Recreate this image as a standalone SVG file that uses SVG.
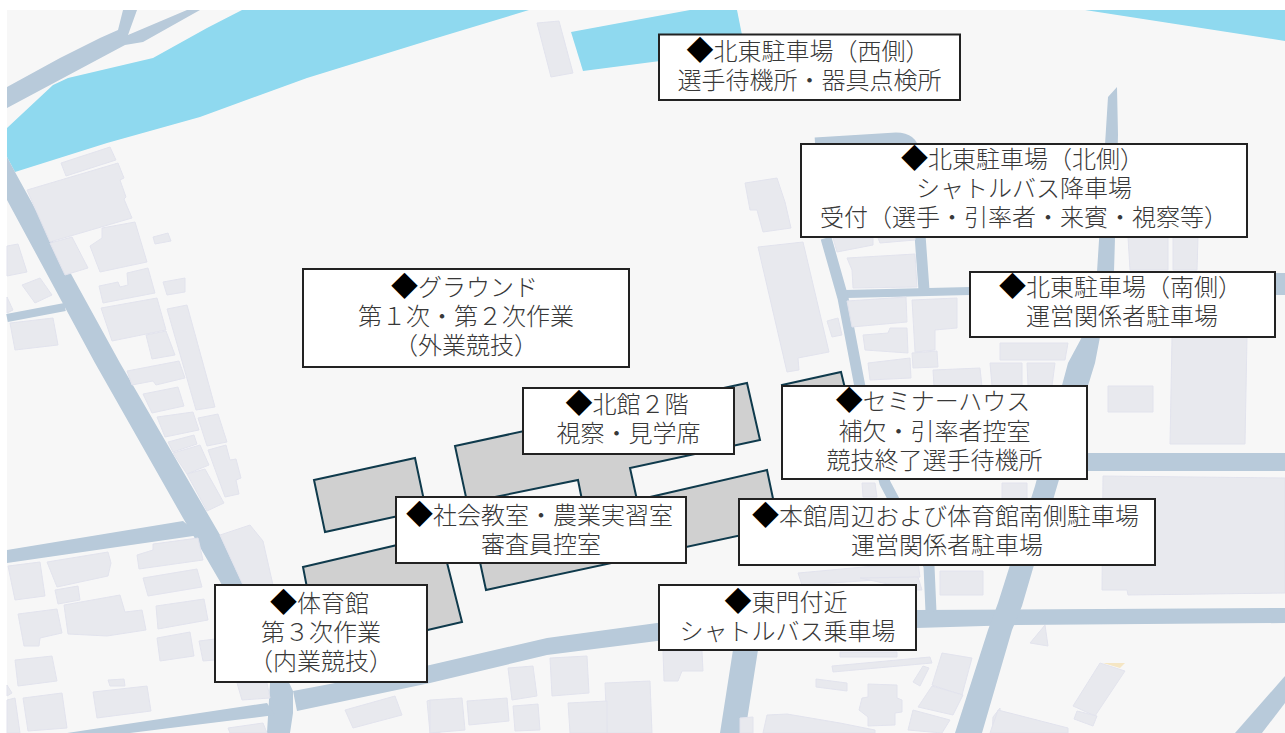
<svg xmlns="http://www.w3.org/2000/svg" width="1285" height="733" viewBox="0 0 1285 733">
<defs><filter id="soft" x="-2%" y="-2%" width="104%" height="104%"><feGaussianBlur stdDeviation="0.6"/></filter></defs>
<style>
.r{fill:#8fd9ef}
.d{fill:#b8cada}
.l{fill:none;stroke:#b8cada}
.b polygon{fill:#e8e9ee;stroke:#e2e3ed;stroke-width:1}
.h{fill:#d0d0d0;stroke:#0f3a4c;stroke-width:2;stroke-linejoin:miter}
.box{fill:#fff;stroke:#222;stroke-width:2}
text{font-family:"Noto Sans CJK JP","Noto Sans CJK SC",sans-serif;font-size:24px;font-weight:300;fill:#383838;text-anchor:middle}
.m{fill:#000;font-size:27px}
</style>
<rect width="1285" height="733" fill="#fff"/>
<rect x="7" y="10" width="1278" height="723" fill="#f7f7f7"/>
<g id="map" filter="url(#soft)">
<g id="water">
<polygon class="r" points="7,128 53,85 68,78 153,58 207,28 242,10 529,10 430,40 307,78 200,117 107,143 15,172 7,157"/>
<polygon class="r" points="571,32 690,10 737,10 745,50 583,71"/>
<polygon class="r" points="1085,10 1285,10 1285,41"/>
</g>
<g id="roads">
<polygon class="d" points="7,87 60,58 100,38 118,30 123,10 137,10 128,35 187,10 200,10 143,42 125,45 7,108"/>
<polygon class="d" points="7,157 15,172 120,363 220,535 243,585 293,691 293,713 290,733 267,733 270,683 222,585 183,518 95,363 7,200"/>
<polyline class="l" stroke-width="8" points="7,318 65,307"/>
<polygon class="d" points="7,550 183,521 200,535 7,563"/>
<polygon class="d" points="67,733 267,703 275,715 227,721 130,733"/>
<polygon class="d" points="293,691 430,665 547,638 657,623 916,610 1285,608 1285,623 1018,625 916,628 657,641 547,655 430,683 297,711"/>
<polygon class="d" points="733,650 758,650 745,733 720,733"/>
<polygon class="d" points="1068,363 1095,363 1058,483 1022,606 1012,630 982,733 955,733 988,630 998,603 1035,486"/>
<polygon class="d" points="1108,97 1117,87 1118,135 1114,272 1100,337 1095,363 1068,363 1082,337 1097,272"/>
<polygon class="d" points="845,290 970,287 970,295 847,298"/>
<polygon class="d" points="1270,273 1285,273 1285,295 1270,295"/>
<polyline class="l" stroke-width="11" stroke-linejoin="round" points="826,238 843,298 860,387 885,483 929,566 931,612"/>
<path class="l" stroke-width="11" d="M815,143 L896,138 Q912,138 914,152 L924,290"/>
<rect class="d" x="1050" y="453" width="235" height="18"/>
<polygon class="d" points="1235,733 1285,676 1285,703 1262,733"/>
</g>
<g id="buildings" class="b">
<polygon points="61,163 110,147 116,160 66,176"/>
<polygon points="27,190 118,163 124,178 120,180 126,197 124,199 132,218 50,242"/>
<polygon points="50,243 72,237 88,268 65,275"/>
<polygon points="90,246 102,238 102,228 135,222 147,262 100,272"/>
<polygon points="153,237 168,233 171,241 155,244"/>
<polygon points="7,246 18,244 27,272 7,276"/>
<polygon points="22,285 40,278 52,295 35,303"/>
<polygon points="7,297 13,310 7,313"/>
<polygon points="99,286 118,282 120,287 128,285 127,273 148,268 155,293 103,303"/>
<polygon points="163,282 185,278 185,292 167,295"/>
<polygon points="101,308 157,298 166,330 112,341"/>
<polygon points="146,335 166,331 175,355 152,359"/>
<polygon points="167,309 187,305 215,407 196,410"/>
<polygon points="10,323 53,318 58,345 15,350"/>
<polygon points="127,371 179,361 185,378 156,385 153,381 132,385"/>
<polygon points="143,394 178,387 184,406 152,413"/>
<polygon points="157,417 193,412 199,430 165,437"/>
<polygon points="198,418 218,414 227,442 207,446"/>
<polygon points="168,442 194,435 197,444 173,452"/>
<polygon points="173,453 200,445 209,465 187,474"/>
<polygon points="208,450 226,445 230,460 236,459 241,478 236,480 239,494 225,497"/>
<polygon points="187,474 205,469 224,503 207,511"/>
<polygon points="220,535 250,525 263,541 273,585 243,585"/>
<polygon points="137,555 153,550 153,544 198,538 203,560 139,569"/>
<polygon points="143,578 197,569 202,587 148,596"/>
<polygon points="156,606 204,599 208,620 158,629"/>
<polygon points="157,638 190,632 194,656 160,661"/>
<polygon points="199,641 215,639 215,660 203,661"/>
<polygon points="8,566 40,562 45,596 15,600"/>
<polygon points="47,562 108,552 111,563 108,576 57,587"/>
<polygon points="55,590 78,586 80,600 58,604"/>
<polygon points="64,605 120,595 125,612 142,610 146,630 107,636 68,634"/>
<polygon points="18,614 57,609 62,633 40,638 39,646 24,646"/>
<polygon points="15,660 52,656 57,681 18,686"/>
<polygon points="108,680 124,679 125,686 110,686"/>
<polygon points="93,692 147,686 151,711 97,718"/>
<polygon points="23,698 62,693 67,728 28,731"/>
<polygon points="7,685 12,693 7,696"/>
<polygon points="7,700 15,698 20,733 7,733"/>
<polygon points="237,683 267,683 270,698 242,700"/>
<polygon points="345,710 395,696 402,715 353,728"/>
<polygon points="228,728 263,723 267,733 230,733"/>
<polygon points="427,701 430,700 440,733 430,733"/>
<polygon points="508,668 533,666 537,696 512,700"/>
<polygon points="550,658 587,656 589,693 552,696"/>
<polygon points="605,683 650,681 652,733 607,733"/>
<polygon points="568,703 607,701 607,733 570,733"/>
<polygon points="513,706 538,704 540,730 515,731"/>
<polygon points="467,701 507,698 509,721 469,725"/>
<polygon points="430,700 462,698 465,730 430,733"/>
<polygon points="663,651 702,651 703,671 682,671 678,681 664,681"/>
<polygon points="798,573 918,562 920,577 802,585"/>
<polygon points="832,666 930,657 932,663 833,672"/>
<polygon points="816,679 847,683 847,691 816,687"/>
<polygon points="913,682 923,666 929,668 920,686"/>
<polygon points="868,684 897,685 897,698 902,700 902,712 895,713 895,725 868,726 868,717 859,710 862,698 868,697"/>
<polygon points="932,685 942,653 972,658 962,695"/>
<polygon points="918,707 932,686 963,695 953,715"/>
<polygon points="908,730 913,710 950,720 942,733"/>
<polygon points="763,733 767,715 787,714 840,723 875,730 875,733"/>
<polygon points="740,718 753,717 753,733 740,733"/>
<polygon points="840,652 897,652 897,657 840,657"/>
<polygon points="993,717 1000,708 1000,733 992,733"/>
<polygon points="1108,386 1153,386 1153,412 1108,412"/>
<polygon points="1172,337 1247,337 1245,444 1170,444"/>
<polygon points="1128,237 1168,237 1168,270 1130,270"/>
<polygon points="1173,237 1198,237 1197,270 1173,270"/>
<polygon points="1103,476 1285,478 1285,593 1128,595 1127,590 1102,590"/>
<polygon points="940,571 983,571 983,595 940,595"/>
<polygon points="1002,483 1027,483 1027,499 1002,499"/>
<polygon points="1030,643 1045,625 1048,646"/>
<polygon points="1100,663 1125,671 1095,716 1073,706"/>
<polygon points="1077,711 1097,716 1093,726 1074,719"/>
<polygon points="998,710 1068,728 1068,733 990,733"/>
<polygon points="868,363 910,358 911,378 870,380"/>
<polygon points="933,370 980,368 982,387 934,387"/>
<polygon points="990,363 1022,363 1022,386 992,386"/>
<polygon points="1027,363 1055,363 1052,386 1028,386"/>
<polygon points="862,483 875,483 877,497 863,497"/>
<polygon points="860,578 918,577 922,590 916,590"/>
<polygon points="745,183 777,178 785,202 791,228 763,232 757,210 750,210"/>
<polygon points="758,247 803,242 829,352 798,358 799,370 787,372"/>
<polygon points="827,321 838,318 842,335 832,337"/>
<polygon points="833,238 873,238 873,245 837,252"/>
<polygon points="878,238 915,237 915,240 880,243"/>
<polygon points="847,258 915,254 917,287 853,288 852,270"/>
<polygon points="847,301 906,297 907,322 852,327"/>
<polygon points="912,300 957,298 957,328 935,330 935,350 915,352"/>
<polygon points="863,335 888,333 890,328 907,328 908,353 865,350"/>
<polygon points="912,353 937,351 938,367 913,368"/>
<polygon points="1000,343 1068,343 1065,360 1000,360"/>
<polygon points="537,23 559,21 573,73 551,77"/>
</g>
<polygon points="1103,663 1125,663 1120,668" fill="#f5e6c4"/>
</g>
<g id="campus">
<polygon class="h" points="314,480 415,458 426,510 325,532"/>
<polygon class="h" points="303,567 440,535 462,622 320,655"/>
<path class="h" fill-rule="evenodd" d="M455,446 L747,383 L760,440 L630,468 L637,500 L767,470 L779,527 L486,590 Z M490,498 L578,480 L586,520 L498,540 Z"/>
<polygon class="h" points="782,385 841,372 860,450 800,465"/>
</g>
<g id="n-west"><rect class="box" x="659" y="34.500" width="301" height="65.500"/><text x="808" y="60"><tspan class="m">◆</tspan>北東駐車場（西側）</text><text x="809.500" y="89">選手待機所・器具点検所</text></g>
<g id="n-north"><rect class="box" x="801" y="144" width="446" height="93"/><text x="1022.500" y="168"><tspan class="m">◆</tspan>北東駐車場（北側）</text><text x="1024" y="197">シャトルバス降車場</text><text x="1024" y="226">受付（選手・引率者・来賓・視察等）</text></g>
<g id="n-south"><rect class="box" x="970" y="272" width="305" height="65"/><text x="1120.500" y="296"><tspan class="m">◆</tspan>北東駐車場（南側）</text><text x="1122" y="325">運営関係者駐車場</text></g>
<g id="n-ground"><rect class="box" x="303" y="269" width="326" height="98"/><text x="464.500" y="296"><tspan class="m">◆</tspan>グラウンド</text><text x="466" y="325">第１次・第２次作業</text><text x="466" y="354">（外業競技）</text></g>
<g id="n-kitakan"><rect class="box" x="523" y="388" width="211" height="66"/><text x="627" y="413"><tspan class="m">◆</tspan>北館２階</text><text x="628.500" y="442">視察・見学席</text></g>
<g id="n-seminar"><rect class="box" x="782" y="386" width="305" height="93"/><text x="933" y="410"><tspan class="m">◆</tspan>セミナーハウス</text><text x="934.500" y="440">補欠・引率者控室</text><text x="934.500" y="469">競技終了選手待機所</text></g>
<g id="n-shakai"><rect class="box" x="396" y="497" width="290" height="66"/><text x="539.500" y="524"><tspan class="m">◆</tspan>社会教室・農業実習室</text><text x="541" y="553">審査員控室</text></g>
<g id="n-honkan"><rect class="box" x="739" y="499" width="416" height="66"/><text x="945.500" y="525"><tspan class="m">◆</tspan>本館周辺および体育館南側駐車場</text><text x="947" y="554">運営関係者駐車場</text></g>
<g id="n-east"><rect class="box" x="659" y="585" width="257" height="65"/><text x="786" y="611"><tspan class="m">◆</tspan>東門付近</text><text x="787.500" y="640">シャトルバス乗車場</text></g>
<g id="n-gym"><rect class="box" x="215" y="585" width="212" height="97"/><text x="319.500" y="612"><tspan class="m">◆</tspan>体育館</text><text x="321" y="641">第３次作業</text><text x="321" y="670">（内業競技）</text></g>
</svg>
